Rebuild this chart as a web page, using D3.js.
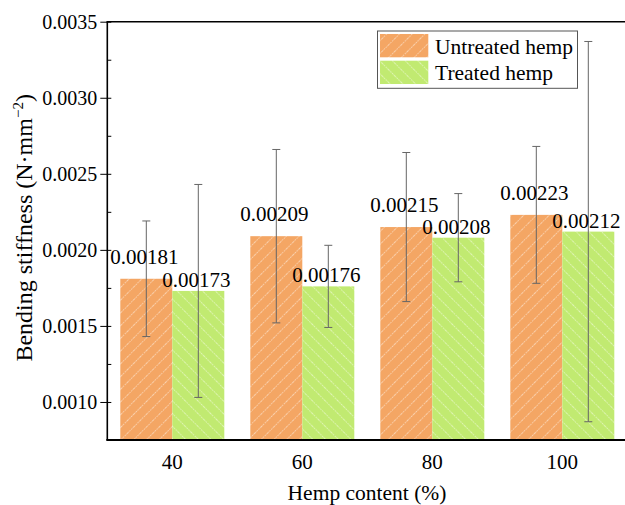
<!DOCTYPE html>
<html>
<head>
<meta charset="utf-8">
<script src="https://cdn.jsdelivr.net/npm/d3@7"></script>
<style>
  html, body { margin: 0; padding: 0; background: #fff; }
  svg { display: block; font-family: "Liberation Serif", "Times New Roman", serif; }
</style>
</head>
<body>
<svg id="chart" width="625" height="505"></svg>
<script>
// Hemp content groups and bending stiffness (N·mm^-2)
const categories = ["40", "60", "80", "100"];
const seriesNames = ["Untreated hemp", "Treated hemp"];
const untreated = [0.00181, 0.00209, 0.00215, 0.00223];
const treated = [0.00173, 0.00176, 0.00208, 0.00212];
const untreatedErr = [0.00038, 0.00057, 0.00049, 0.00045];
const treatedErr = [0.00070, 0.00027, 0.00029, 0.00125];
const yMajorTicks = [0.0010, 0.0015, 0.0020, 0.0025, 0.0030, 0.0035];
const yMinorTicks = [0.00125, 0.00175, 0.00225, 0.00275, 0.00325];

const seriesColors = ["#F4A664", "#C1EA71"];
const valueOffsets = [15, 4];

const svg = d3.select("#chart");
const plotLeft = 107.3, plotRight = 627.3, plotTop = 21.7, plotBottom = 440;

// Hatch patterns: "/" for untreated, "\" for treated
const defs = svg.append("defs");
function hatch(id, color, dir) {
  const p = defs.append("pattern")
    .attr("id", id).attr("patternUnits", "userSpaceOnUse")
    .attr("width", 9).attr("height", 9)
    .attr("patternTransform", `rotate(${dir > 0 ? 45 : -45})`);
  p.append("rect").attr("width", 9).attr("height", 9).attr("fill", color);
  p.append("line").attr("x1", 0).attr("y1", 0).attr("x2", 0).attr("y2", 9)
    .attr("stroke", "#fff").attr("stroke-width", 1.6)
    .attr("stroke-opacity", 0.6).attr("stroke-dasharray", "1.5 1");
}
hatch("hatch0", seriesColors[0], 1);
hatch("hatch1", seriesColors[1], -1);

const x = d3.scaleBand().domain(categories).range([plotLeft, plotRight])
  .paddingInner(0.2).paddingOuter(0.1);
const xs = d3.scaleBand().domain([0, 1]).range([0, x.bandwidth()]);
const y = d3.scaleLinear().domain([0.00075, 0.0035]).range([plotBottom, plotTop]);

const series = [
  { values: untreated, errs: untreatedErr },
  { values: treated, errs: treatedErr }
];

// Bars
series.forEach((s, si) => {
  svg.append("g").selectAll("rect")
    .data(categories)
    .join("rect")
    .attr("x", (c) => x(c) + xs(si))
    .attr("y", (c, i) => y(s.values[i]))
    .attr("width", xs.bandwidth())
    .attr("height", (c, i) => y(0.00075) - y(s.values[i]))
    .attr("fill", `url(#hatch${si})`);
});

// Error bars
series.forEach((s, si) => {
  const g = svg.append("g").attr("stroke", "#666").attr("stroke-width", 1);
  categories.forEach((c, i) => {
    const cx = x(c) + xs(si) + xs.bandwidth() / 2;
    const hi = y(s.values[i] + s.errs[i]);
    const lo = y(s.values[i] - s.errs[i]);
    g.append("line").attr("x1", cx).attr("x2", cx).attr("y1", hi).attr("y2", lo);
    g.append("line").attr("x1", cx - 4).attr("x2", cx + 4).attr("y1", hi).attr("y2", hi);
    g.append("line").attr("x1", cx - 4).attr("x2", cx + 4).attr("y1", lo).attr("y2", lo);
  });
});

// Value labels
series.forEach((s, si) => {
  svg.append("g").selectAll("text")
    .data(categories)
    .join("text")
    .attr("x", (c) => x(c) + xs(si) + xs.bandwidth() / 2 - 2)
    .attr("y", (c, i) => y(s.values[i]) - valueOffsets[si])
    .attr("text-anchor", "middle")
    .attr("font-family", "Liberation Serif")
    .attr("font-size", 21)
    .attr("fill", "#000")
    .text((c, i) => s.values[i].toFixed(5));
});

// Y axis: major ticks outward with labels, all ticks inward
const yAxis = svg.append("g").attr("transform", `translate(${plotLeft},0)`)
  .call(d3.axisLeft(y).tickValues(yMajorTicks).tickSize(7).tickPadding(3)
    .tickFormat(d3.format(".4f")));
yAxis.attr("font-family", "Liberation Serif");
yAxis.select(".domain").remove();
yAxis.selectAll("text").attr("font-size", 20).attr("fill", "#000");
yAxis.selectAll("line").attr("stroke", "#000");

const yInner = svg.append("g").attr("transform", `translate(${plotLeft},0)`)
  .call(d3.axisLeft(y).tickValues(yMajorTicks.concat(yMinorTicks)).tickSize(-4).tickFormat(""));
yInner.select(".domain").remove();
yInner.selectAll("line").attr("stroke", "#000");

// X axis labels
const xAxis = svg.append("g").attr("transform", `translate(0,${plotBottom})`)
  .call(d3.axisBottom(x).tickSize(0).tickPadding(14));
xAxis.attr("font-family", "Liberation Serif");
xAxis.select(".domain").remove();
xAxis.selectAll("text").attr("font-size", 21).attr("fill", "#000");

// Frame lines
svg.append("line").attr("x1", plotLeft).attr("x2", plotLeft).attr("y1", plotTop).attr("y2", plotBottom)
  .attr("stroke", "#000").attr("stroke-width", 1.6);
svg.append("line").attr("x1", plotLeft - 1).attr("x2", 625).attr("y1", plotBottom).attr("y2", plotBottom)
  .attr("stroke", "#000").attr("stroke-width", 2);
svg.append("line").attr("x1", plotLeft - 0.8).attr("x2", 625).attr("y1", plotTop).attr("y2", plotTop)
  .attr("stroke", "#000").attr("stroke-width", 1.6);

// Axis titles
const yTitle = svg.append("text")
  .attr("transform", `translate(32,${(plotTop + plotBottom) / 2 - 3}) rotate(-90)`)
  .attr("text-anchor", "middle").attr("font-size", 24).attr("fill", "#000");
yTitle.append("tspan").text("Bending stiffness (N·mm");
yTitle.append("tspan").attr("font-size", 15).attr("dy", -9).text("−2");
yTitle.append("tspan").attr("dy", 9).text(")");

svg.append("text")
  .attr("x", 367).attr("y", 500)
  .attr("text-anchor", "middle").attr("font-size", 21.5).attr("fill", "#000")
  .text("Hemp content (%)");

// Legend
const lg = svg.append("g");
lg.append("rect").attr("x", 377.5).attr("y", 31).attr("width", 200).attr("height", 57.3)
  .attr("fill", "#fff").attr("stroke", "#555").attr("stroke-width", 1);
seriesNames.forEach((name, i) => {
  lg.append("rect").attr("x", 380).attr("y", 34 + i * 26.7).attr("width", 48.3).attr("height", 23.3)
    .attr("fill", `url(#hatch${i})`);
  lg.append("text").attr("x", 435).attr("y", 53.5 + i * 26.7)
    .attr("font-size", 21.5).attr("fill", "#000").text(name);
});
</script>
</body>
</html>
